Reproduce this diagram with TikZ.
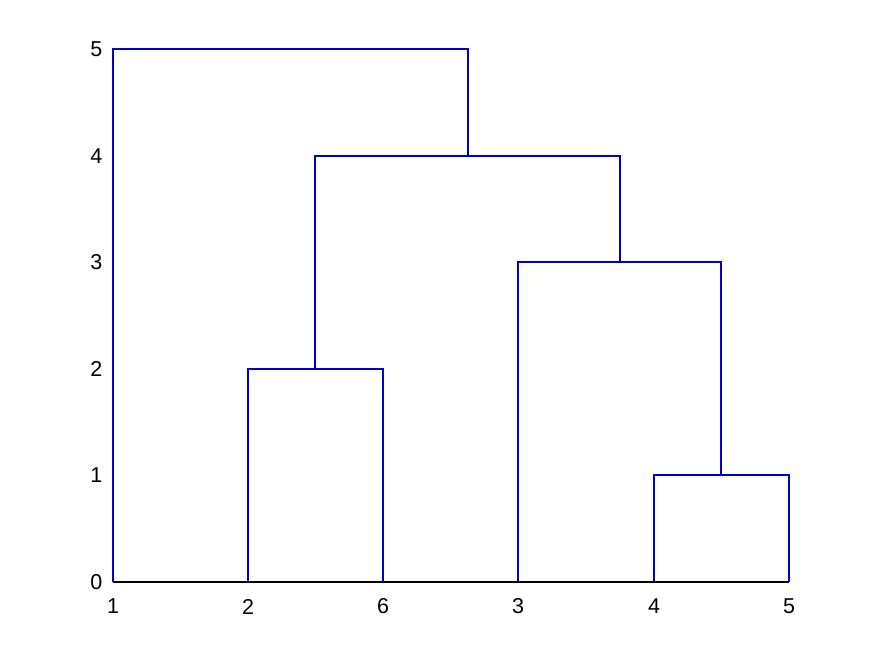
\documentclass[tikz,border=0pt]{standalone}
\usepackage{fontspec}
\setmainfont{Liberation Sans}
\definecolor{dend}{RGB}{0,0,205}
\begin{document}
\begin{tikzpicture}[x=1pt,y=-1pt,
  link/.style={draw=dend,line width=1.4pt},
  axisline/.style={draw=black,line width=1.2pt},
  ticklab/.style={font=\fontsize{21.5}{25}\selectfont,inner sep=0pt}]
\useasboundingbox (0,0) rectangle (872,654);
% leaves at height 0
\coordinate (l1) at (113,582);
\coordinate (l2) at (248,582);
\coordinate (l6) at (383,582);
\coordinate (l3) at (518,582);
\coordinate (l4) at (654,582);
\coordinate (l5) at (789,582);
% merges
\coordinate (m45) at (721,475);
\coordinate (m26) at (315,369);
\coordinate (m345) at (620,262);
\coordinate (m23456) at (468,156);
% x axis
\draw[axisline] (l1) -- (l5);
% links
\draw[link] (l4) |- (m45) -| (l5);
\draw[link] (l2) |- (m26) -| (l6);
\draw[link] (l3) |- (m345) -| (m45);
\draw[link] (m26) |- (m23456) -| (m345);
\draw[link] (l1) |- (468,49) coordinate (top) -- (m23456);
% x tick labels
\foreach \n/\t in {l1/1,l2/2,l6/6,l3/3,l4/4,l5/5}
  \node[ticklab] (x\n) at ([yshift=-24.5]\n) {\t};
% y tick labels
\foreach \v in {0,...,5}
  \node[ticklab,anchor=east] (y\v) at (102.5,582-106.6*\v) {\v};
\end{tikzpicture}
\end{document}
